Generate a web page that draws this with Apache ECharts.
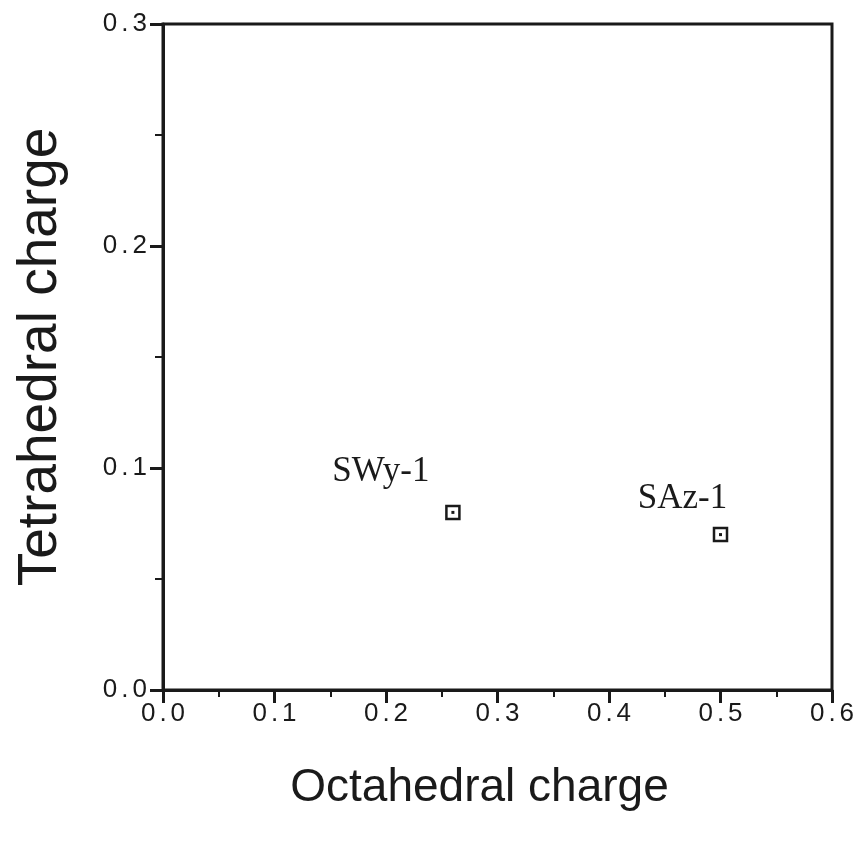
<!DOCTYPE html>
<html>
<head>
<meta charset="utf-8">
<script src="https://cdn.jsdelivr.net/npm/echarts@6/dist/echarts.min.js"></script>
<style>html,body{margin:0;padding:0;background:#fff;}#c{width:864px;height:855px;}</style>
</head>
<body>
<div id="c"></div>
<script>
const sampleNames = ['SWy-1', 'SAz-1'];
const octahedralCharge = [0.26, 0.50];
const tetrahedralCharge = [0.08, 0.07];
const xTicks = [0, 0.1, 0.2, 0.3, 0.4, 0.5, 0.6];
const yTicks = [0, 0.1, 0.2, 0.3];

// label placement (style only)
const labelOffsets = [[-72, -10], [-38, -6]];

const ink = '#1a1a1a';
const pts = sampleNames.map((n, i) => ({
  name: n,
  value: [octahedralCharge[i], tetrahedralCharge[i]],
  label: {offset: labelOffsets[i]}
}));
const dots = sampleNames.map((n, i) => [octahedralCharge[i], tetrahedralCharge[i]]);

// spaced tick labels like the original typesetting
const tickFmt = v => {
  const s = v.toFixed(1).split('.');
  return '{d|' + s[0] + '}{p|.}{d|' + s[1] + '}';
};
const tickRich = {
  d: {fontFamily: 'Liberation Sans', fontSize: 26, color: ink},
  p: {fontFamily: 'Liberation Sans', fontSize: 26, color: ink, padding: [0, 4, 0, 4]}
};

const chart = echarts.init(document.getElementById('c'), null, {renderer: 'canvas'});
chart.setOption({
  backgroundColor: '#fff',
  animation: false,
  grid: {left: 163, top: 24, right: 32, bottom: 165, show: true, borderColor: ink, borderWidth: 3},
  xAxis: {
    type: 'value', min: xTicks[0], max: xTicks[xTicks.length - 1], interval: 0.1,
    name: 'Octahedral charge', nameLocation: 'middle', nameGap: 75,
    nameTextStyle: {fontFamily: 'Liberation Sans', fontSize: 46, color: ink, padding: [0, 36, 0, 0]},
    axisLine: {lineStyle: {color: ink, width: 3}},
    axisTick: {show: true, inside: false, length: 13, lineStyle: {color: ink, width: 3}},
    minorTick: {show: true, splitNumber: 2, length: 7, lineStyle: {color: ink, width: 2}},
    splitLine: {show: false},
    axisLabel: {color: ink, margin: 11, formatter: tickFmt, rich: tickRich}
  },
  yAxis: {
    type: 'value', min: yTicks[0], max: yTicks[yTicks.length - 1], interval: 0.1,
    name: 'Tetrahedral charge', nameLocation: 'middle', nameGap: 95, nameRotate: 90,
    nameTextStyle: {fontFamily: 'Liberation Sans', fontSize: 55, color: ink},
    axisLine: {lineStyle: {color: ink, width: 3}},
    axisTick: {show: true, inside: false, length: 13, lineStyle: {color: ink, width: 3}},
    minorTick: {show: true, splitNumber: 2, length: 8, lineStyle: {color: ink, width: 2}},
    splitLine: {show: false},
    axisLabel: {color: ink, margin: 16, formatter: tickFmt, rich: tickRich}
  },
  series: [
    {
      type: 'scatter', data: pts, symbol: 'rect', symbolSize: 13,
      itemStyle: {color: '#fff', borderColor: ink, borderWidth: 2.5, opacity: 1},
      label: {
        show: true, formatter: p => p.name, position: 'top',
        fontFamily: 'Liberation Serif', fontSize: 35, color: ink
      },
      z: 2
    },
    {
      type: 'scatter', data: dots, symbol: 'rect', symbolSize: 3,
      itemStyle: {color: ink, opacity: 1}, z: 3, silent: true
    }
  ]
});
</script>
</body>
</html>
